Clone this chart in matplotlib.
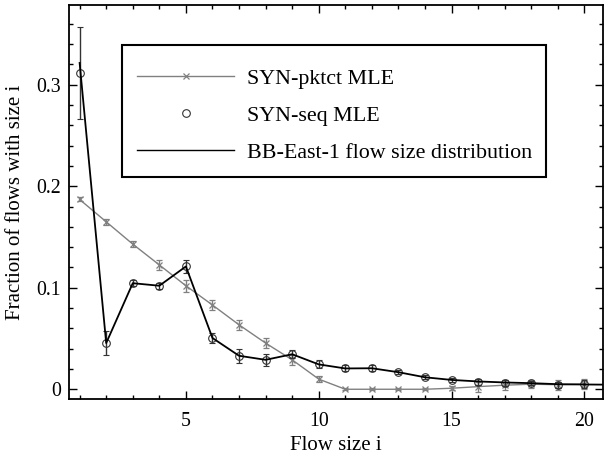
import matplotlib
matplotlib.use("Agg")
import matplotlib.pyplot as plt
from matplotlib.ticker import MultipleLocator
from matplotlib.lines import Line2D
from matplotlib.patches import Rectangle
import numpy as np

# Data
sizes = np.arange(1, 21)
pktct_mle = [0.187, 0.165, 0.143, 0.1225, 0.102, 0.083, 0.0635, 0.0455, 0.029, 0.010,
             0.0, 0.0, 0.0, 0.0, 0.001, 0.0026, 0.0040, 0.0050, 0.0045, 0.0050]
pktct_err = [0.002, 0.003, 0.003, 0.005, 0.006, 0.005, 0.005, 0.005, 0.005, 0.003,
             0.001, 0.001, 0.001, 0.001, 0.002, 0.005, 0.005, 0.004, 0.005, 0.005]
seq_mle = [0.3115, 0.0455, 0.1045, 0.102, 0.121, 0.0505, 0.033, 0.029, 0.0345, 0.0245,
           0.0205, 0.0207, 0.0168, 0.0118, 0.0088, 0.0075, 0.0066, 0.0060, 0.0045, 0.0050]
seq_err = [0.045, 0.012, 0.003, 0.003, 0.0066, 0.005, 0.007, 0.006, 0.004, 0.004,
           0.003, 0.003, 0.002, 0.002, 0.002, 0.003, 0.003, 0.002, 0.003, 0.004]
true_sizes = np.arange(1, 22)
true_dist = [0.3215, 0.0455, 0.1045, 0.102, 0.121, 0.0505, 0.033, 0.029, 0.0345, 0.0245,
             0.0205, 0.0207, 0.0168, 0.0118, 0.0092, 0.0077, 0.0067, 0.0060, 0.0050, 0.0047, 0.0045]
labels = ['SYN-pktct MLE', 'SYN-seq MLE', 'BB-East-1 flow size distribution']

plt.rcParams['font.family'] = ['Liberation Serif', 'DejaVu Serif']

W, H = 604, 458
fig = plt.figure(figsize=(W/100, H/100), dpi=100)
ax = fig.add_axes([69/W, 1-399/H, (603-69)/W, (399-5)/H])

gray = '#808080'
seqc = '#333333'
ax.errorbar(sizes, pktct_mle, yerr=pktct_err, color=gray, lw=1.0, marker='x', ms=5,
            mew=0.9, capsize=2.2, elinewidth=1.0, capthick=1.0, zorder=2)
ax.errorbar(sizes, seq_mle, yerr=seq_err, color=seqc, ls='none', marker='o', ms=5.5,
            mfc='none', mew=0.8, capsize=2.2, elinewidth=1.0, capthick=1.0, zorder=3)
ax.plot(true_sizes, true_dist, color='black', lw=1.3, zorder=4)

ax.set_xlim(0.6, 20.7)
ax.set_ylim(-0.0096, 0.3786)
ax.xaxis.set_major_locator(MultipleLocator(5))
ax.xaxis.set_minor_locator(MultipleLocator(1))
ax.yaxis.set_minor_locator(MultipleLocator(0.02))
ax.set_yticks([0, 0.1, 0.2, 0.3])
ax.set_yticklabels(['0', '0.1', '0.2', '0.3'])
ax.tick_params(which='both', direction='in', top=True, right=True, labelsize=14.3, width=1.0)
ax.tick_params(which='major', length=6)
ax.tick_params(which='minor', length=3)
ax.tick_params(axis='x', pad=9)
ax.tick_params(axis='y', pad=6)
for s in ax.spines.values():
    s.set_linewidth(1.3)

ax.set_xlabel('Flow size i', fontsize=15, labelpad=4)
ax.set_ylabel('Fraction of flows with size i', fontsize=15, labelpad=8)

handles = [
    Line2D([], [], color=gray, lw=1.0, marker='x', ms=5, mew=0.9),
    Line2D([], [], color=seqc, ls='none', marker='o', ms=5.5, mfc='none', mew=0.8),
    Line2D([], [], color='black', lw=1.0),
]
leg = ax.legend(handles, labels, loc='upper left', numpoints=1,
                bbox_to_anchor=((122-69)/534, 1-(53-5)/394), fontsize=15.8,
                frameon=False, handlelength=4.4, handletextpad=0.6,
                borderpad=0.7, labelspacing=0.76, borderaxespad=0)

# legend frame
fig.patches.append(Rectangle((122/W, 1-177/H), (546-122)/W, (177-45)/H,
                             transform=fig.transFigure, fill=False,
                             edgecolor='black', linewidth=1.5, zorder=5))

fig.savefig('out.png', dpi=100)
